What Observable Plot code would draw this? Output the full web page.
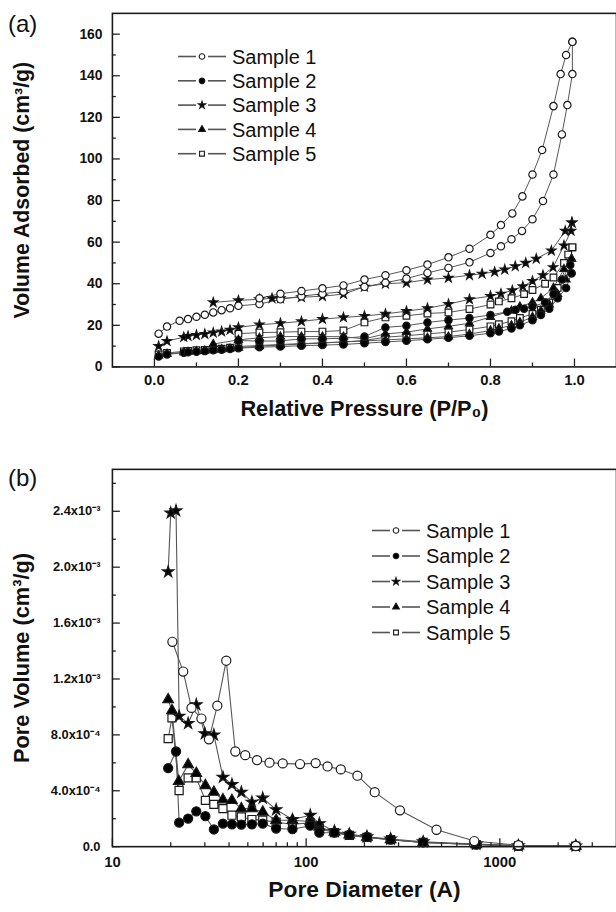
<!DOCTYPE html>
<html><head><meta charset="utf-8">
<script src="https://cdn.jsdelivr.net/npm/d3@7"></script>
<script src="https://cdn.jsdelivr.net/npm/@observablehq/plot@0.6"></script>
<style>
html,body{margin:0;padding:0;width:616px;height:912px;overflow:hidden;background:#fff;}
#wrap{position:relative;width:616px;height:912px;overflow:hidden;font-family:"Liberation Sans",Arial,sans-serif;color:#111;}
.panel{position:absolute;left:0;}
.tag{position:absolute;font-size:24px;line-height:1;color:#111;}
#legend{position:absolute;left:0;top:0;pointer-events:none;}
</style></head><body><div id="wrap"></div>
<script>
// ---------- shared legend/sample data ----------
const samples = ["Sample 1","Sample 2","Sample 3","Sample 4","Sample 5"];
const symbolNames = ["circle","circle","star","triangle","square"];
const symbolFills = ["white","black","black","black","white"];

// ---------- (a) isotherms: [P/P0, volume adsorbed] ----------
const s1Ads = [[0.01,16],[0.03,19.4],[0.06,22.2],[0.08,23],[0.1,24.1],[0.12,25.1],[0.14,26.2],[0.16,27.3],[0.18,28.2],[0.2,29.4],[0.25,30.2],[0.3,32.5],[0.35,34],[0.4,35.2],[0.45,36.2],[0.5,38.5],[0.55,40.5],[0.6,42.5],[0.65,45.2],[0.7,47.6],[0.75,50.3],[0.8,54.8],[0.825,58],[0.85,61.4],[0.875,65.4],[0.9,71],[0.925,79.8],[0.95,92.5],[0.97,111.8],[0.983,125.9],[0.995,140.8],[0.995,156.3]];
const s1Des = [[0.995,156.3],[0.98,150],[0.967,140.8],[0.95,125.4],[0.923,104.3],[0.9,92.5],[0.876,82],[0.852,73.8],[0.825,68.2],[0.8,63.5],[0.75,56.8],[0.7,52.7],[0.65,49.2],[0.6,46.5],[0.55,44.1],[0.5,42],[0.45,39.2],[0.4,37.8],[0.35,36.5],[0.3,35.2],[0.25,33]];
const s2Ads = [[0.01,5],[0.03,6],[0.07,6.8],[0.08,7],[0.1,7.3],[0.12,7.6],[0.14,8],[0.16,8.3],[0.18,8.6],[0.2,9],[0.25,9.5],[0.3,9.8],[0.35,10.2],[0.4,10.5],[0.45,10.8],[0.5,11.4],[0.55,12],[0.6,12.6],[0.65,13.3],[0.7,14],[0.75,15],[0.8,16.2],[0.82,17],[0.85,18.5],[0.87,20],[0.9,22.5],[0.92,25],[0.94,28],[0.96,33],[0.98,38],[0.993,45]];
const s2Des = [[0.993,45],[0.99,49],[0.97,42],[0.95,35],[0.93,31],[0.9,29],[0.88,28],[0.86,27.5],[0.84,26.5],[0.8,25],[0.75,23.5],[0.7,22.5],[0.65,21.4],[0.6,19.8],[0.55,19],[0.5,14.6],[0.45,13.8],[0.4,13.5],[0.35,13.5],[0.3,12.5],[0.25,12.4],[0.2,12.7]];
const s3Ads = [[0.01,10],[0.03,12.4],[0.07,14.3],[0.08,14.8],[0.1,15.3],[0.12,15.8],[0.14,16.5],[0.16,17],[0.18,17.8],[0.2,19],[0.25,20.3],[0.3,21],[0.35,21.9],[0.4,23],[0.45,23.8],[0.5,24.5],[0.55,25.5],[0.6,26.8],[0.65,28.2],[0.7,30.2],[0.75,32.5],[0.8,34.1],[0.825,35.2],[0.852,36.8],[0.877,38.7],[0.9,41.3],[0.925,44.1],[0.949,47.9],[0.975,58.4],[0.992,65.4],[0.994,69.4]];
const s3Des = [[0.994,69.4],[0.978,65.4],[0.945,55.9],[0.909,52],[0.884,50],[0.859,48.4],[0.834,46.8],[0.81,45.7],[0.78,44.8],[0.75,44.1],[0.7,42.8],[0.65,42],[0.6,40.5],[0.55,40],[0.5,38.5],[0.45,35],[0.4,34],[0.35,33.5],[0.3,33],[0.28,33],[0.25,32.5],[0.2,32],[0.14,31]];
const s4Ads = [[0.01,5.5],[0.03,6.3],[0.07,7],[0.08,7.2],[0.1,7.5],[0.12,7.8],[0.14,8.2],[0.16,8.5],[0.18,8.8],[0.2,9.2],[0.25,10],[0.3,10.5],[0.35,11],[0.4,11.5],[0.45,12],[0.5,12.5],[0.55,13],[0.6,13.5],[0.65,14],[0.7,14.6],[0.75,15.8],[0.8,17.5],[0.82,18.5],[0.85,20],[0.87,21.5],[0.9,24],[0.92,27],[0.94,30],[0.96,35],[0.98,42],[0.993,52]];
const s4Des = [[0.993,52],[0.975,47],[0.95,38],[0.92,33],[0.9,31],[0.87,29],[0.85,27],[0.8,24],[0.75,21],[0.7,19.5],[0.65,18.3],[0.6,16.7],[0.55,15.9],[0.5,13.5],[0.45,14.5],[0.4,14.6],[0.35,14.6],[0.3,14.6],[0.25,14],[0.2,13],[0.14,11]];
const s5Ads = [[0.01,6],[0.03,6.7],[0.07,7.5],[0.08,7.7],[0.1,8],[0.12,8.2],[0.14,8.5],[0.16,8.8],[0.18,9.2],[0.2,9.8],[0.25,10.3],[0.3,10.8],[0.35,11.2],[0.4,11.6],[0.45,12],[0.5,12.7],[0.55,14.3],[0.6,15],[0.65,15.9],[0.7,16.7],[0.75,18],[0.8,19.5],[0.82,20.5],[0.85,22],[0.87,23.5],[0.9,25.5],[0.92,27.5],[0.94,31],[0.96,38],[0.98,48],[0.995,57.5]];
const s5Des = [[0.995,57.5],[0.985,54],[0.975,50],[0.95,43],[0.93,40],[0.9,37],[0.88,35],[0.85,33],[0.82,31.5],[0.8,30],[0.75,27.8],[0.7,26.2],[0.65,25.7],[0.6,24.6],[0.55,23.8],[0.5,21.4],[0.45,17.5],[0.4,17],[0.35,17],[0.3,16.7],[0.25,16.5],[0.2,16]];

const aXMajor = [0,0.2,0.4,0.6,0.8,1.0];
const aXMinor = [0.1,0.3,0.5,0.7,0.9];
const aYMajor = [0,20,40,60,80,100,120,140,160];
const aYMinor = [10,30,50,70,90,110,130,150];

// ---------- (b) pore size distribution: [diameter (A), pore volume] ----------
const p1 = [[20.4,1.466e-3],[23.2,1.253e-3],[25.6,0.993e-3],[28.8,0.917e-3],[31.5,0.768e-3],[34.8,1.009e-3],[38.7,1.331e-3],[43.1,0.681e-3],[48.5,0.655e-3],[55.8,0.619e-3],[64.7,0.601e-3],[75.7,0.596e-3],[93,0.591e-3],[112,0.598e-3],[129,0.574e-3],[151,0.553e-3],[184,0.508e-3],[226,0.39e-3],[305,0.26e-3],[471,0.121e-3],[738,0.04e-3],[1247,0.01e-3],[2466,0.005e-3]];
const p2 = [[19.4,0.562e-3],[21.3,0.681e-3],[22.1,0.172e-3],[24.6,0.201e-3],[27.1,0.253e-3],[30.2,0.218e-3],[33.4,0.123e-3],[37.2,0.165e-3],[41.4,0.16e-3],[46.3,0.158e-3],[52.5,0.16e-3],[59.7,0.165e-3],[70,0.13e-3],[85,0.125e-3],[105,0.15e-3],[117,0.1e-3],[140,0.1e-3],[167,0.085e-3],[206,0.07e-3],[273,0.05e-3],[402,0.03e-3],[755,0.015e-3],[1247,0.006e-3],[2466,0.004e-3]];
const p3 = [[19.4,1.967e-3],[20.0,2.388e-3],[21.3,2.404e-3],[22.1,0.934e-3],[24.6,0.882e-3],[27.1,1.016e-3],[30.0,0.809e-3],[33.4,0.80e-3],[37.2,0.497e-3],[41.4,0.445e-3],[46.3,0.39e-3],[52.5,0.319e-3],[59.7,0.348e-3],[70,0.265e-3],[85,0.194e-3],[105,0.225e-3],[117,0.165e-3],[140,0.111e-3],[167,0.09e-3],[206,0.071e-3],[273,0.055e-3],[402,0.035e-3],[755,0.019e-3],[1247,0.007e-3],[2466,0.005e-3]];
const p4 = [[19.4,1.052e-3],[20.3,0.974e-3],[22.0,0.468e-3],[24.6,0.587e-3],[27.1,0.525e-3],[30.2,0.438e-3],[33.4,0.39e-3],[37.2,0.336e-3],[41.4,0.331e-3],[46.3,0.272e-3],[52.5,0.272e-3],[59.7,0.248e-3],[70,0.189e-3],[85,0.189e-3],[105,0.18e-3],[117,0.14e-3],[140,0.105e-3],[167,0.085e-3],[206,0.068e-3],[273,0.05e-3],[402,0.03e-3],[755,0.015e-3],[1247,0.006e-3],[2466,0.004e-3]];
const p5 = [[19.4,0.773e-3],[20.3,0.922e-3],[22.1,0.402e-3],[24.6,0.492e-3],[27.1,0.492e-3],[30.2,0.331e-3],[33.4,0.303e-3],[37.2,0.272e-3],[41.4,0.225e-3],[46.3,0.213e-3],[52.5,0.194e-3],[59.7,0.19e-3],[70,0.175e-3],[85,0.16e-3],[105,0.17e-3],[117,0.13e-3],[140,0.1e-3],[167,0.08e-3],[206,0.066e-3],[273,0.05e-3],[402,0.03e-3],[755,0.015e-3],[1247,0.005e-3],[2466,0.004e-3]];

const bXMajor = [10,100,1000];
const bXMinor = [20,30,40,50,60,70,80,90,200,300,400,500,600,700,800,900,2000,3000];
const bYMajor = [0,4e-4,8e-4,1.2e-3,1.6e-3,2.0e-3,2.4e-3];
const bYMinor = [2e-4,6e-4,1.0e-3,1.4e-3,1.8e-3,2.2e-3,2.6e-3];
const bYLabels = ["0.0","4.0x10\u207B\u2074","8.0x10\u207B\u2074","1.2x10\u207B\u00B3","1.6x10\u207B\u00B3","2.0x10\u207B\u00B3","2.4x10\u207B\u00B3"];

// ---------- build tables ----------
const isoSets = [
  [samples[0],"ads",s1Ads],[samples[0],"des",s1Des],
  [samples[1],"ads",s2Ads],[samples[1],"des",s2Des],
  [samples[2],"ads",s3Ads],[samples[2],"des",s3Des],
  [samples[3],"ads",s4Ads],[samples[3],"des",s4Des],
  [samples[4],"ads",s5Ads],[samples[4],"des",s5Des]
];
const isoRows = [];
isoSets.forEach(([sample, branch, pts]) => pts.forEach(([p, v]) => isoRows.push({sample, key: sample + branch, p, v})));
const poreSets = [[samples[0],p1],[samples[1],p2],[samples[2],p3],[samples[3],p4],[samples[4],p5]];
const poreRows = [];
poreSets.forEach(([sample, pts]) => pts.forEach(([d, v]) => poreRows.push({sample, d, v})));

const FONT = "Liberation Sans, Arial, sans-serif";
const wrap = document.getElementById("wrap");
const W = 622;
const symOf = s => symbolNames[samples.indexOf(s)];

// one dot mark per sample (drawn 5..1 so sample 1 is on top), radius per symbol shape
function dots(rows, xk, sizes) {
  return samples.slice().reverse().map(s =>
    Plot.dot(rows.filter(d => d.sample === s), {
      x: xk, y: "v", symbol: "sample", fill: "sample",
      stroke: "#1a1a1a", strokeWidth: 1.2, r: sizes[symOf(s)]
    }));
}

function panel(top, svg) {
  const d = document.createElement("div");
  d.className = "panel"; d.style.top = top + "px";
  d.appendChild(svg); wrap.appendChild(d);
}

// ---------- chart (a) ----------
{
  const mT = 13, mB = 60, mL = 113, H = 430;
  const plotH = H - mT - mB, plotW = W - mL;
  const chart = Plot.plot({
    width: W, height: H, marginTop: mT, marginBottom: mB, marginLeft: mL, marginRight: 0,
    style: {fontFamily: FONT, background: "transparent", color: "#111"},
    x: {domain: [-0.1, 1.1]},
    y: {domain: [0, 170]},
    symbol: {domain: samples, range: symbolNames},
    color: {domain: samples, range: symbolFills},
    marks: [
      Plot.line(isoRows, {x: "p", y: "v", z: "key", stroke: "#555", strokeWidth: 1}),
      ...dots(isoRows, "p", {circle: 3.7, star: 2.9, triangle: 3.0, square: 3.8}),
      Plot.tickX(aXMajor, {x: d => d, insetTop: plotH - 8, stroke: "#222", strokeWidth: 1.3}),
      Plot.tickX(aXMinor, {x: d => d, insetTop: plotH - 4, stroke: "#222", strokeWidth: 1.3}),
      Plot.tickY(aYMajor, {y: d => d, insetRight: plotW - 8, stroke: "#222", strokeWidth: 1.3}),
      Plot.tickY(aYMinor, {y: d => d, insetRight: plotW - 4, stroke: "#222", strokeWidth: 1.3}),
      Plot.axisX({ticks: aXMajor, tickSize: 0, tickPadding: 8, tickFormat: d3.format(".1f"), fontSize: 15, fontWeight: "bold", label: null}),
      Plot.axisY({ticks: aYMajor, tickSize: 0, tickPadding: 10, tickFormat: d => String(d), fontSize: 14, fontWeight: "bold", label: null}),
      Plot.frame({stroke: "#1a1a1a", strokeWidth: 1.6}),
      Plot.text(["Relative Pressure (P/P\u2080)"], {text: d => d, frameAnchor: "bottom", dy: 43, fontSize: 22, fontWeight: "bold", fill: "#111", textAnchor: "middle", lineAnchor: "middle"}),
      Plot.text(["Volume Adsorbed (cm\u00B3/g)"], {text: d => d, frameAnchor: "left", dx: -91, rotate: -90, fontSize: 21.5, fontWeight: "bold", fill: "#111", textAnchor: "middle", lineAnchor: "middle"})
    ]
  });
  panel(0, chart);
}

// ---------- chart (b) ----------
{
  const top = 455, mT = 14, mB = 57, mL = 113, H = 452;
  const plotH = H - mT - mB, plotW = W - mL;
  const chart = Plot.plot({
    width: W, height: H, marginTop: mT, marginBottom: mB, marginLeft: mL, marginRight: 0,
    style: {fontFamily: FONT, background: "transparent", color: "#111"},
    x: {type: "log", domain: [10, 4000]},
    y: {domain: [0, 2.7e-3]},
    symbol: {domain: samples, range: symbolNames},
    color: {domain: samples, range: symbolFills},
    marks: [
      Plot.line(poreRows, {x: "d", y: "v", z: "sample", stroke: "#555", strokeWidth: 1.1}),
      ...dots(poreRows, "d", {circle: 4.6, star: 3.6, triangle: 4.0, square: 4.6}),
      Plot.tickX(bXMajor, {x: d => d, insetTop: plotH - 8, stroke: "#222", strokeWidth: 1.3}),
      Plot.tickX(bXMinor, {x: d => d, insetTop: plotH - 4, stroke: "#222", strokeWidth: 1.3}),
      Plot.tickY(bYMajor, {y: d => d, insetRight: plotW - 8, stroke: "#222", strokeWidth: 1.3}),
      Plot.tickY(bYMinor, {y: d => d, insetRight: plotW - 4, stroke: "#222", strokeWidth: 1.3}),
      Plot.axisX({ticks: bXMajor, tickSize: 0, tickPadding: 10, tickFormat: d => String(d), fontSize: 15, fontWeight: "bold", label: null}),
      Plot.axisY({ticks: bYMajor, tickSize: 0, tickPadding: 12, tickFormat: d => bYLabels[bYMajor.indexOf(d)], fontSize: 13, fontWeight: "bold", label: null}),
      Plot.frame({stroke: "#1a1a1a", strokeWidth: 1.6}),
      Plot.text(["Pore Diameter (A)"], {text: d => d, frameAnchor: "bottom", dy: 43, fontSize: 23, fontWeight: "bold", fill: "#111", textAnchor: "middle", lineAnchor: "middle"}),
      Plot.text(["Pore Volume (cm\u00B3/g)"], {text: d => d, frameAnchor: "left", dx: -91, rotate: -90, fontSize: 22, fontWeight: "bold", fill: "#111", textAnchor: "middle", lineAnchor: "middle"})
    ]
  });
  panel(top, chart);
}

// ---------- panel tags ----------
[["(a)", 8, 12], ["(b)", 8, 466]].forEach(([t, x, y]) => {
  const s = document.createElement("div");
  s.className = "tag"; s.textContent = t; s.style.left = x + "px"; s.style.top = y + "px";
  wrap.appendChild(s);
});

// ---------- legends ----------
const d3Sym = {circle: d3.symbolCircle, star: d3.symbolStar, triangle: d3.symbolTriangle, square: d3.symbolSquare};
const legR = {circle: 2.8, star: 2.3, triangle: 2.5, square: 2.7};
const leg = d3.select(wrap).append("svg").attr("id", "legend").attr("width", 616).attr("height", 912);
function legend(x0, x1, xm, xt, y0, dy) {
  samples.forEach((s, i) => {
    const y = y0 + i * dy;
    const sym = symbolNames[i];
    const g = leg.append("g");
    g.append("line").attr("x1", x0).attr("x2", xm - 6).attr("y1", y).attr("y2", y).attr("stroke", "#555").attr("stroke-width", 1.6);
    g.append("line").attr("x1", xm + 6).attr("x2", x1).attr("y1", y).attr("y2", y).attr("stroke", "#555").attr("stroke-width", 1.6);
    g.append("path").attr("d", d3.symbol(d3Sym[sym], Math.PI * legR[sym] * legR[sym])())
      .attr("transform", `translate(${xm},${y})`).attr("fill", symbolFills[i]).attr("stroke", "#1a1a1a").attr("stroke-width", 1.1);
    g.append("text").attr("x", xt).attr("y", y).attr("dy", "0.36em").attr("font-family", FONT)
      .attr("font-size", 20).attr("fill", "#111").text(s);
  });
}
legend(178, 226, 202, 232, 56.5, 24.3);
legend(372, 420, 396, 426, 530.5, 25.5);
</script></body></html>
